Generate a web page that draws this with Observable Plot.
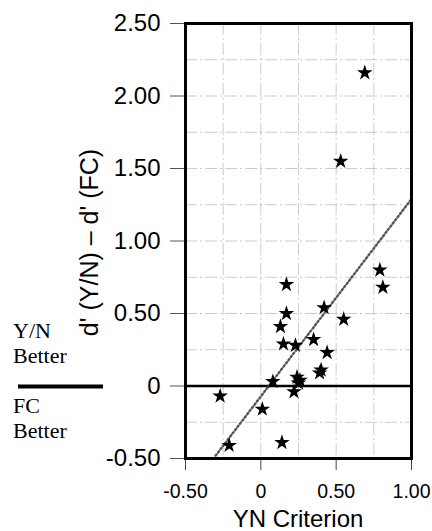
<!DOCTYPE html>
<html>
<head>
<meta charset="utf-8">
<script src="https://cdn.jsdelivr.net/npm/d3@7"></script>
<script src="https://cdn.jsdelivr.net/npm/@observablehq/plot@0.6"></script>
<style>
  html, body { margin: 0; padding: 0; background: #fff; }
  #chart { width: 432px; height: 531px; }
</style>
</head>
<body>
<div id="chart"></div>
<script>
// Data
const criterion = [0.17, 0.79, 0.81, 0.17, 0.42, 0.55, 0.13, 0.15, 0.23, 0.35, 0.44, 0.40, 0.39, 0.24, 0.26, 0.25, 0.08, 0.22, -0.27, 0.01, -0.21, 0.14, 0.69, 0.53];
const dDiff     = [0.70, 0.80, 0.68, 0.50, 0.54, 0.46, 0.41, 0.29, 0.28, 0.32, 0.23, 0.11, 0.09, 0.06, 0.04, 0.02, 0.03, -0.04, -0.07, -0.16, -0.41, -0.39, 2.16, 1.55];
const fitX = [-0.30, 1.00];
const fitY = [-0.48, 1.29];
const xTicks = [-0.5, 0, 0.5, 1.0];
const yTicks = [-0.5, 0, 0.5, 1.0, 1.5, 2.0, 2.5];
const gridX = [-0.25, 0, 0.25, 0.5, 0.75];
const gridY = [-0.25, 0.25, 0.5, 0.75, 1.0, 1.25, 1.5, 1.75, 2.0, 2.25];
const xTitle = "YN Criterion";
const yTitle = "d' (Y/N) \u2013 d' (FC)";
const upperNote = ["Y/N", "Better"];
const lowerNote = ["FC", "Better"];

const points = criterion.map((c, i) => ({c, d: dDiff[i]}));
const fit = fitX.map((x, i) => ({x, y: fitY[i]}));

const fmt = d => d === 0 ? "0" : d.toFixed(2);

const svg = Plot.plot({
  width: 432,
  height: 531,
  marginLeft: 185,
  marginRight: 21,
  marginTop: 23,
  marginBottom: 73,
  style: {fontFamily: "'Liberation Sans', Arial, sans-serif", fontSize: "20px", color: "#000", background: "#fff", overflow: "visible"},
  x: {domain: [-0.5, 1.0]},
  y: {domain: [-0.5, 2.5]},
  marks: [
    Plot.gridX(gridX, {stroke: "#999", strokeOpacity: 0.5, strokeWidth: 1, strokeDasharray: "12,3,2,3"}),
    Plot.gridY(gridY, {stroke: "#999", strokeOpacity: 0.5, strokeWidth: 1, strokeDasharray: "12,3,2,3"}),
    Plot.axisX(xTicks, {tickFormat: fmt, tickSize: 12, tickPadding: 14, stroke: "#444", label: null, fontSize: 19.5}),
    Plot.axisY(yTicks, {tickFormat: fmt, tickSize: 15, tickPadding: 10, stroke: "#555", label: null, fontSize: 24}),
    Plot.ruleY([0], {stroke: "#000", strokeWidth: 2.5}),
    Plot.line(fit, {x: "x", y: "y", stroke: "#555", strokeWidth: 2.4, strokeDasharray: "1.5,2.5"}),
    Plot.dot(points, {x: "c", y: "d", symbol: "star", r: 4.9, fill: "#000", stroke: "none"}),
    Plot.frame({stroke: "#000", strokeWidth: 3})
  ]
});

document.getElementById("chart").appendChild(svg);

const root = d3.select(svg);
const sx = svg.scale("x");
const sy = svg.scale("y");
const zeroY = sy.apply(0);
const midY = (sy.apply(-0.5) + sy.apply(2.5)) / 2;
const midX = (sx.apply(-0.5) + sx.apply(1.0)) / 2;

// Axis titles
root.append("text")
  .attr("x", midX).attr("y", 527)
  .attr("text-anchor", "middle")
  .attr("font-family", "'Liberation Sans', Arial, sans-serif")
  .attr("font-size", 24).attr("fill", "#000")
  .text(xTitle);
root.append("text")
  .attr("transform", `translate(98,${midY + 2}) rotate(-90)`)
  .attr("text-anchor", "middle")
  .attr("font-family", "'Liberation Sans', Arial, sans-serif")
  .attr("font-size", 25).attr("fill", "#000")
  .text(yTitle);

// Side annotation: "Y/N Better" / "FC Better" with thick bar at the zero level
const ann = root.append("g")
  .attr("text-anchor", "start")
  .attr("font-family", "'Liberation Serif', 'Times New Roman', serif")
  .attr("font-size", 22)
  .attr("fill", "#000");
upperNote.forEach((t, i) => {
  ann.append("text").attr("x", 13).attr("y", zeroY - 48 + i * 25).text(t);
});
lowerNote.forEach((t, i) => {
  ann.append("text").attr("x", 13).attr("y", zeroY + 27 + i * 25).text(t);
});
root.append("line")
  .attr("x1", 18).attr("x2", 103)
  .attr("y1", zeroY + 1).attr("y2", zeroY + 1)
  .attr("stroke", "#000").attr("stroke-width", 4);
</script>
</body>
</html>
